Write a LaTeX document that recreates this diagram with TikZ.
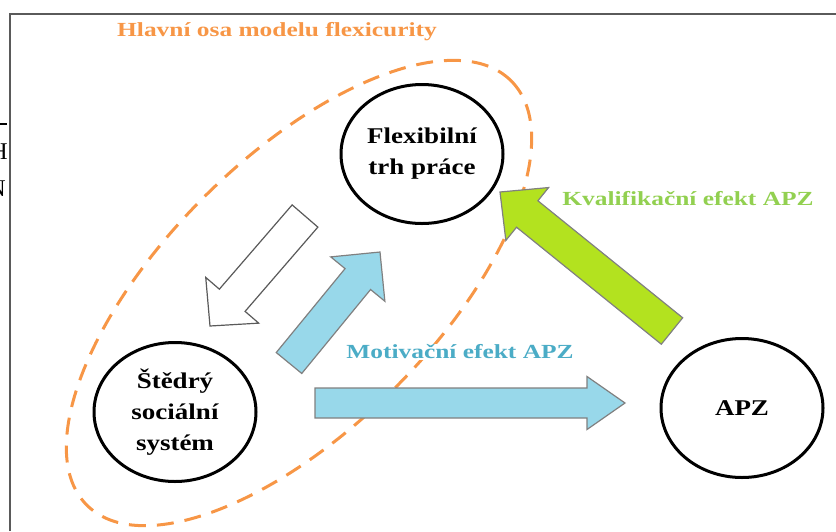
\documentclass[tikz,border=0pt]{standalone}
\usepackage{fontspec}
\setmainfont{Liberation Serif}
\newfontfamily\nodefnt{Liberation Serif}[FakeStretch=1.2]
\newfontfamily\labfnt{Liberation Serif}[FakeStretch=1.27]
\usetikzlibrary{calc,shapes.geometric}
\definecolor{axisorange}{HTML}{F79646}
\definecolor{motblue}{HTML}{4BACC6}
\definecolor{kvalgreen}{HTML}{92D050}
\definecolor{arrblue}{HTML}{98D8EA}
\definecolor{arrgreen}{HTML}{B3E21F}
\definecolor{framegray}{HTML}{5A5A5A}
\newcommand{\blockarr}[6]{%
  \coordinate (ba-j) at ($(#3)!#6!(#2)$);
  \draw[#1] ($(#2)!#4!90:(#3)$) -- ($(ba-j)!#4!90:(#3)$) -- ($(ba-j)!#5!90:(#3)$)
    -- (#3) -- ($(ba-j)!#5!-90:(#3)$) -- ($(ba-j)!#4!-90:(#3)$) -- ($(#2)!#4!-90:(#3)$) -- cycle;
}
\begin{document}
\begin{tikzpicture}[x=1pt,y=-1pt,
  circnode/.style={ellipse, draw=black, line width=3pt, fill=white,
    minimum width=162pt, minimum height=139pt, align=center, inner sep=0pt,
    font=\nodefnt\bfseries\fontsize{22.5}{31}\selectfont},
  labnode/.style={font=\labfnt\bfseries\fontsize{20}{24}\selectfont, inner sep=1pt},
  axisline/.style={draw=axisorange, line width=3pt, dash pattern=on 17pt off 11pt},
  bluearr/.style={fill=arrblue, draw=gray, line width=1.2pt, line join=miter},
  greenarr/.style={fill=arrgreen, draw=gray, line width=1.2pt, line join=miter},
  whitearr/.style={fill=white, draw=framegray, line width=1.2pt, line join=miter},
  framestyle/.style={draw=framegray, line width=2pt}
]
\useasboundingbox (0,0) rectangle (836,531);

% frame
\coordinate (frbl) at (10,531);
\coordinate (frtl) at (10,14);
\coordinate (frtr) at (836,14);
\draw[framestyle] (frbl) -- (frtl) -- (frtr);

% fragments of neighbouring text at the left edge
\begin{scope}
  \clip (0,0) rectangle (8,531);
  \coordinate (fragl) at (0,124);
  \coordinate (fragr) at (7,124);
  \draw[line width=1.5pt] (fragl) -- (fragr);
  \node[anchor=east, inner sep=0pt, font=\fontsize{24}{24}\selectfont] (fragH) at (8,152) {H};
  \node[anchor=east, inner sep=0pt, font=\fontsize{24}{24}\selectfont] (fragN) at (6,189) {N};
\end{scope}

% main axis (dashed ellipse)
\coordinate (axc) at (299,293);
\draw[axisline, rotate around={45:(axc)}] (axc) ellipse [x radius=300, y radius=135];

% title
\node[labnode, text=axisorange] (title) at (277,32) {Hlavní osa modelu flexicurity};

% circles
\node[circnode] (flex) at (422,154) {Flexibilní\\trh práce};
\node[circnode] (sted) at (175,412) {Štědrý\\sociální\\systém};
\node[circnode] (apz) at (742,408) {APZ};

% arrows
\coordinate (wt) at (305,216);
\coordinate (wh) at (210,326);
\blockarr{whitearr}{wt}{wh}{17pt}{35pt}{34pt}

\coordinate (bdt) at (289,363);
\coordinate (bdh) at (380,252);
\blockarr{bluearr}{bdt}{bdh}{16.5pt}{35pt}{35pt}

\coordinate (bht) at (315,403);
\coordinate (bhh) at (625,403);
\blockarr{bluearr}{bht}{bhh}{15pt}{26.5pt}{38pt}

\coordinate (gt) at (672,331);
\coordinate (gh) at (500,192);
\blockarr{greenarr}{gt}{gh}{17pt}{34pt}{35pt}

% labels
\node[labnode, text=motblue, fill=white] (mot) at (460,352) {Motivační efekt APZ};
\node[labnode, text=kvalgreen] (kval) at (688,199) {Kvalifikační efekt APZ};
\end{tikzpicture}
\end{document}
